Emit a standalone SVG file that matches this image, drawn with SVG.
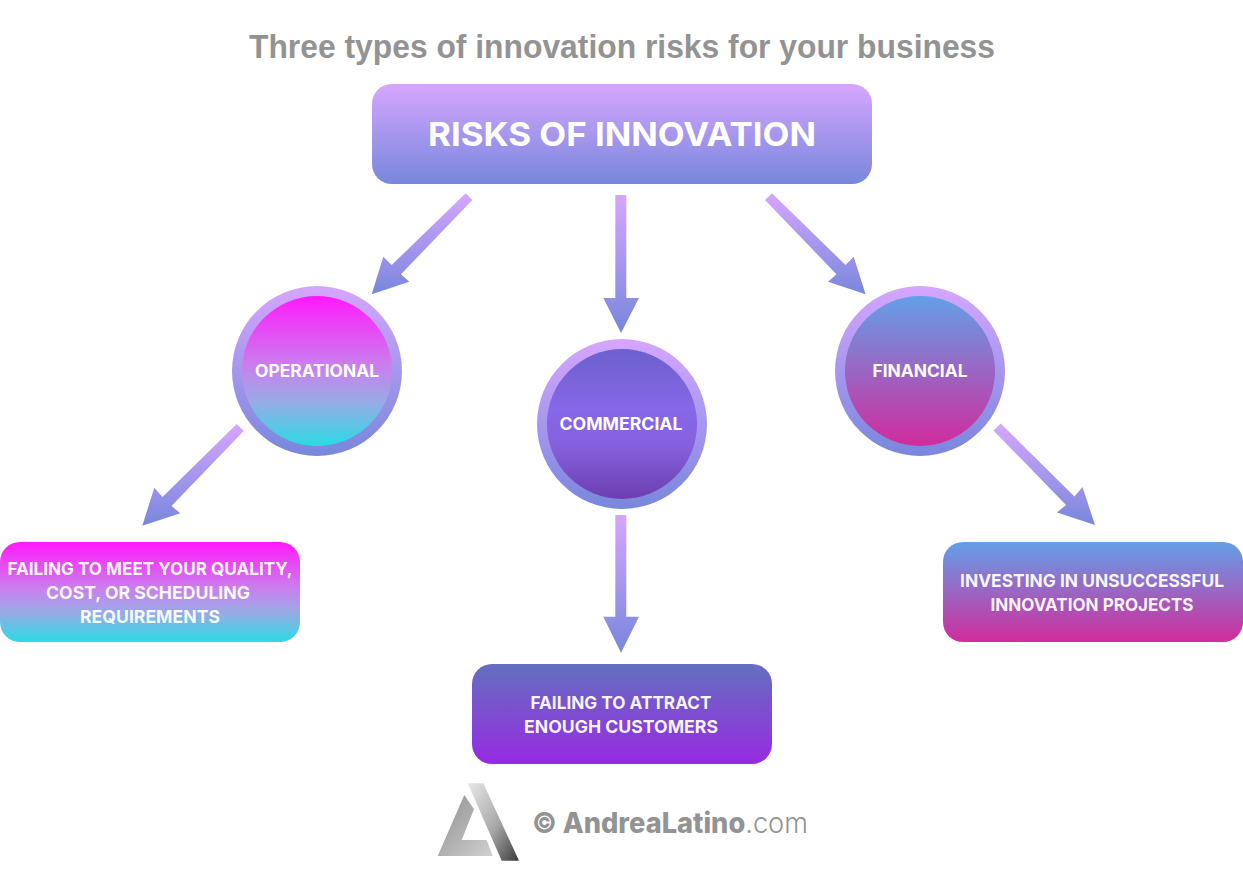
<svg xmlns="http://www.w3.org/2000/svg" width="1243" height="896" viewBox="0 0 1243 896">
<style>
text{font-family:"Inter","Liberation Sans",sans-serif;font-weight:700;fill:#fff;text-anchor:middle}
.t{font-size:17.5px;fill-opacity:.94}
.c{font-size:17px}
.a{fill:url(#ga)}
</style>
<defs>
<linearGradient id="ga" x1="0" y1="0" x2="0" y2="1"><stop offset="0" stop-color="#d6a6ff"/><stop offset="1" stop-color="#7887dc"/></linearGradient>
<linearGradient id="g1" x1="0" y1="0" x2="0" y2="1"><stop offset="0" stop-color="#ff19fb"/><stop offset=".45" stop-color="#cc7cee"/><stop offset=".7" stop-color="#9aaae6"/><stop offset="1" stop-color="#2adbe4"/></linearGradient>
<linearGradient id="g2" x1="0" y1="0" x2="0" y2="1"><stop offset="0" stop-color="#6c60cc"/><stop offset=".4" stop-color="#8668e8"/><stop offset=".65" stop-color="#8560dc"/><stop offset="1" stop-color="#6c3eb0"/></linearGradient>
<linearGradient id="g3" x1="0" y1="0" x2="0" y2="1"><stop offset="0" stop-color="#649fe8"/><stop offset="1" stop-color="#d02c9c"/></linearGradient>
<linearGradient id="g4" x1="0" y1="0" x2="0" y2="1"><stop offset="0" stop-color="#646fc0"/><stop offset="1" stop-color="#962ae2"/></linearGradient>
<linearGradient id="l1" x1="0" y1="0" x2="1" y2="1"><stop offset="0" stop-color="#e8e8e8"/><stop offset=".55" stop-color="#a8a8a8"/><stop offset="1" stop-color="#3a3a3a"/></linearGradient>
<linearGradient id="l2" x1="0" y1="0" x2="1" y2="1"><stop offset="0" stop-color="#8f8f8f"/><stop offset="1" stop-color="#d0d0d0"/></linearGradient>
</defs>
<rect width="1243" height="896" fill="#fff"/>
<text id="title" x="622" y="58" style="font-family:'Liberation Sans',sans-serif;font-size:33px;fill:#939393" textLength="746" lengthAdjust="spacingAndGlyphs">Three types of innovation risks for your business</text>
<g id="connectors">
<polygon class="a" points="465.7,193.3 472.3,200 401,274.3 409.3,281.7 371.7,294.3 383.3,256.7 391.7,265"/>
<polygon class="a" points="615.3,195 626.3,195 626.3,298 639,298 621,333 603.3,298 615.3,298"/>
<polygon class="a" points="772,193.3 765,200 836.5,274.3 828,281.7 865.6,294.3 853.7,256.7 845.5,265"/>
<polygon class="a" points="236.7,424 243.7,431 171.5,506 180.3,513.3 142.3,525.7 154.3,487.7 162.5,497"/>
<polygon class="a" points="615.3,515 626.3,515 626.3,616.7 639,616.7 621,652.7 603.3,616.7 615.3,616.7"/>
<polygon class="a" points="1000.7,423.5 993.5,430.5 1066,505 1057,512.5 1095,525 1082.5,487 1074.5,496.5"/>
</g>
<g id="root"><rect x="372" y="84" width="500" height="100" rx="20" fill="url(#ga)"/><text x="622" y="146" style="font-size:33px" textLength="388" lengthAdjust="spacingAndGlyphs">RISKS OF INNOVATION</text></g>
<g id="operational"><circle cx="317" cy="371" r="85" fill="url(#ga)"/><circle cx="317" cy="371" r="75" fill="url(#g1)"/><text class="c" x="317" y="377" textLength="124" lengthAdjust="spacingAndGlyphs">OPERATIONAL</text></g>
<g id="commercial"><circle cx="622" cy="424" r="85" fill="url(#ga)"/><circle cx="622" cy="424" r="75" fill="url(#g2)"/><text class="c" x="621" y="430" textLength="123" lengthAdjust="spacingAndGlyphs">COMMERCIAL</text></g>
<g id="financial"><circle cx="920" cy="371" r="85" fill="url(#ga)"/><circle cx="920" cy="371" r="75" fill="url(#g3)"/><text class="c" x="920" y="377" textLength="95" lengthAdjust="spacingAndGlyphs">FINANCIAL</text></g>
<g id="quality"><rect x="0" y="542" width="300" height="100" rx="20" fill="url(#g1)"/>
<text class="t" x="150" y="575" textLength="285" lengthAdjust="spacingAndGlyphs">FAILING TO MEET YOUR QUALITY,</text>
<text class="t" x="148" y="599" textLength="204" lengthAdjust="spacingAndGlyphs">COST, OR SCHEDULING</text>
<text class="t" x="150" y="623" textLength="140" lengthAdjust="spacingAndGlyphs">REQUIREMENTS</text></g>
<g id="customers"><rect x="472" y="664" width="300" height="100" rx="20" fill="url(#g4)"/>
<text class="t" x="621" y="709" textLength="181" lengthAdjust="spacingAndGlyphs">FAILING TO ATTRACT</text>
<text class="t" x="621" y="733" textLength="194" lengthAdjust="spacingAndGlyphs">ENOUGH CUSTOMERS</text></g>
<g id="projects"><rect x="943" y="542" width="300" height="100" rx="20" fill="url(#g3)"/>
<text class="t" x="1092" y="587" textLength="264" lengthAdjust="spacingAndGlyphs">INVESTING IN UNSUCCESSFUL</text>
<text class="t" x="1092" y="611" textLength="203" lengthAdjust="spacingAndGlyphs">INNOVATION PROJECTS</text></g>
<g id="logo">
<polygon points="467.7,783.3 483.3,783.3 519,860.7 501.7,860.7" fill="url(#l1)"/>
<polygon points="464.3,795 474,809.3 461.7,840 486.7,840 492.7,856 437.7,856" fill="url(#l2)"/>
<text x="670" y="832.5" style="font-size:28px;fill:#939393;font-weight:800" textLength="276" lengthAdjust="spacingAndGlyphs">© AndreaLatino<tspan style="font-weight:300">.com</tspan></text>
</g>
</svg>
